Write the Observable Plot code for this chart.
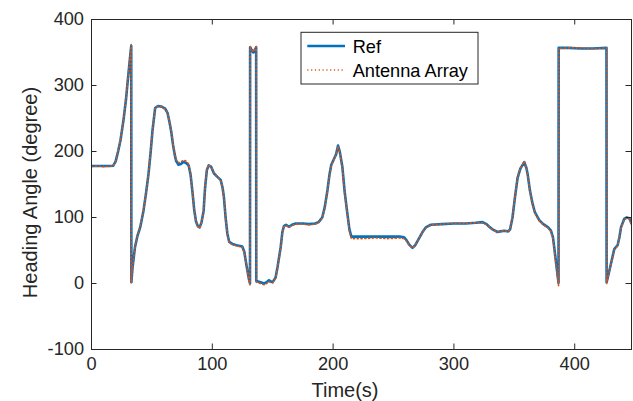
<!DOCTYPE html>
<html><head><meta charset="utf-8">
<script src="https://cdn.jsdelivr.net/npm/d3@7"></script>
<script src="https://cdn.jsdelivr.net/npm/@observablehq/plot@0.6"></script>
<style>body{margin:0;background:#fff;}</style>
</head><body><div id="chart"></div>
<script>
// Time (s)
const time = [0,5,10,15,18,20,22,24,26.5,28.5,30,31.5,32.9,33.0,34,36,38,40.3,43,45,47.2,49,50.5,52.7,55,58,61,63,64.5,66,67.5,68.8,70,72,74,76,78,80.4,82,83.5,85,86.5,88,89.5,91,92.8,94,95.5,97,99,101.3,104,106.9,108.5,109.6,111,112.5,114,116.6,120,124.8,126.5,127.6,129,130.5,131.2,131.3,132.5,134,135.5,136.3,136.4,138,140,142.8,145,146.9,148.5,150,152.4,154,156.6,158,159.3,161,163.5,166,169,175,180,185,188,191,193,195.3,197,198.5,200.8,202.5,204.1,205.5,207.7,209.5,211.8,213.5,215.1,218,225,235,245,255,258.8,261,263,265.7,268,271,274,276.7,280.9,290,300,310,318,323.7,327,329.2,332,336.1,338.5,341.6,345,346.5,348.5,350.5,352.7,355,358.2,360,361,363,365.1,367,370.6,374,378,380.3,382,383,385,386.6,386.7,395,405,415,426.3,426.4,428,430,432.7,435.5,437,438.3,441,443,445.2,447];
// Reference heading (degree)
const refDeg = [178,178,178,178,178.5,185,200,217,248,278,307,335,360,2,25,55,72,85,110,135,166,200,232,266,269,268,265,258,245,230,210,196,186,180,181,184,183,179,165,140,112,94,87,85,92,110,145,172,179,177,167,162,157,145,131,100,75,63,60,58,56,48,35,20,5,0,358,354,350,355,358,4,3,2,0,2,5,3,2,9,25,55,78,87,89,86,89,91,91,90,91,93,100,115,141,165,180,189,196,209,200,176,140,106,82,71,71,71,71,71,71,70,65,59,54,58,68,78,85,89,90,91,91,92,93,90,86,82,78,79,80,79,82,100,130,160,174,184,175,166,140,121,108,96,90,85,80,70,55,25,1,357,357,356,356,357,2,14,30,52,58,70,85,98,100,99,91];
// Antenna array heading (degree)
const antDeg = [177,178,177,178,178,185,201,217,249,279,308,336,362,1,26,56,72,86,111,135,167,201,233,266,269,268,264,258,246,231,211,197,188,183,184,187,186,181,166,141,112,94,86,84,92,110,146,173,180,177,168,162,156,145,130,99,73,62,59,57,55,47,34,19,3,-2,359,355,351,356,359,2,1,0,-2,0,3,1,1,8,24,54,77,86,88,85,88,90,90,89,90,92,99,114,140,164,179,188,196,208,199,175,138,104,79,68,68,68,69,68,69,68,64,58,54,58,68,78,84,89,90,91,91,92,92,89,86,82,78,79,80,79,82,101,131,161,175,185,175,165,139,120,107,95,89,84,79,68,53,22,-4,356,357,357,356,357,0,13,29,51,57,70,84,97,99,98,90];

const xTicks = [0,100,200,300,400];
const yTicks = [-100,0,100,200,300,400];
const seriesNames = ["Ref", "Antenna Array"];
const seriesColors = ["#0072BD", "#D95319"];
const xLabel = "Time(s)";
const yLabel = "Heading Angle (degree)";

const refData = time.map((t, i) => ({t, v: refDeg[i]}));
const antData = time.map((t, i) => ({t, v: antDeg[i]}));

const W = 633, H = 401, mL = 91, mR = 2, mT = 19, mB = 52;
const fw = W - mL - mR, fh = H - mT - mB;
const axisColor = "#262626";
const font = "'Liberation Sans', Arial, Helvetica, sans-serif";
const tickLen = 5.5;
const dots = "1.2 2.6";

const chart = Plot.plot({
  width: W, height: H,
  marginLeft: mL, marginRight: mR, marginTop: mT, marginBottom: mB,
  style: {fontFamily: font, background: "white", overflow: "visible"},
  x: {domain: [0, 447]},
  y: {domain: [-100, 400]},
  marks: [
    Plot.line(refData, {x: "t", y: "v", stroke: seriesColors[0], strokeWidth: 2.6, clip: true}),
    Plot.line(antData, {x: "t", y: "v", stroke: seriesColors[1], strokeWidth: 1.6, strokeDasharray: dots, clip: true}),
    Plot.frame({stroke: axisColor, strokeWidth: 1}),
    Plot.axisX(xTicks, {tickSize: 0, tickPadding: 8, fontSize: 18.2, fill: axisColor, stroke: axisColor, label: null, tickFormat: d => String(d)}),
    Plot.axisY(yTicks, {tickSize: 0, tickPadding: 7.5, fontSize: 18.2, fill: axisColor, stroke: axisColor, label: null, tickFormat: d => String(d)}),
    Plot.tickX(xTicks, {x: d => d, insetTop: fh - tickLen, stroke: axisColor}),
    Plot.tickX(xTicks, {x: d => d, insetBottom: fh - tickLen, stroke: axisColor}),
    Plot.tickY(yTicks, {y: d => d, insetRight: fw - tickLen, stroke: axisColor}),
    Plot.tickY(yTicks, {y: d => d, insetLeft: fw - tickLen, stroke: axisColor})
  ]
});

const svg = d3.select(chart);
// axis labels
svg.append("text").attr("x", 345).attr("y", 397).attr("text-anchor", "middle")
  .attr("font-family", font).attr("font-size", 20).attr("fill", axisColor).text(xLabel);
svg.append("text").attr("transform", "translate(36.5,192.5) rotate(-90)").attr("text-anchor", "middle")
  .attr("font-family", font).attr("font-size", 20).attr("fill", axisColor).text(yLabel);
// legend
const lg = svg.append("g").attr("text-anchor", "start");
lg.append("rect").attr("x", 301).attr("y", 32.3).attr("width", 177).attr("height", 51.7)
  .attr("fill", "white").attr("stroke", axisColor).attr("stroke-width", 1);
seriesNames.forEach((name, i) => {
  const cy = 46 + i * 24;
  lg.append("line").attr("x1", 307.3).attr("x2", 345).attr("y1", cy).attr("y2", cy)
    .attr("stroke", seriesColors[i]).attr("stroke-width", i === 0 ? 2.6 : 1.6)
    .attr("stroke-dasharray", i === 0 ? null : dots);
  lg.append("text").attr("x", 352.7).attr("y", cy + 7.3).attr("text-anchor", "start")
    .attr("font-family", font).attr("font-size", 18.2).attr("fill", "#000").text(name);
});

document.getElementById("chart").appendChild(chart);
</script>
</body></html>
